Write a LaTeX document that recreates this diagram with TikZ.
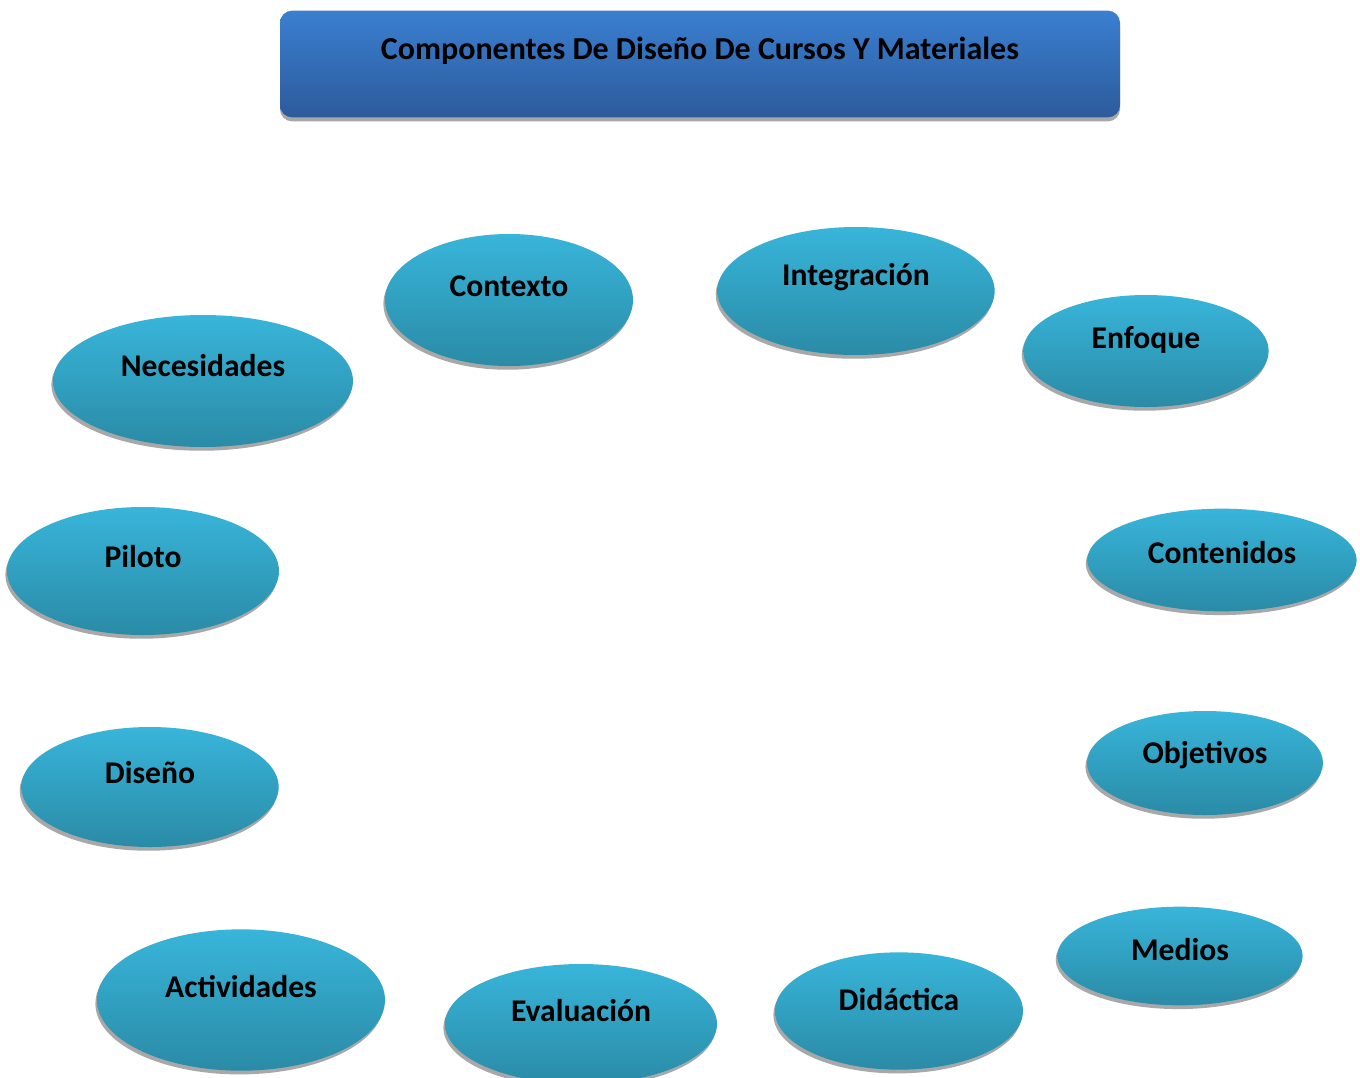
\documentclass[tikz,border=0pt]{standalone}
\usepackage{fontspec}
\setmainfont{Carlito}
\usetikzlibrary{shapes.geometric,shadows}
\definecolor{btop}{HTML}{3A7FD0}
\definecolor{bbot}{HTML}{2D5B9C}
\definecolor{etop}{HTML}{38B5DA}
\definecolor{ebot}{HTML}{2A8BA6}
\definecolor{shd}{HTML}{A8A8A8}
\tikzset{
  bubble/.style={ellipse, inner sep=0pt, shading=axis, top color=etop, bottom color=ebot,
    drop shadow={shadow xshift=-1.2pt, shadow yshift=-2.8pt, fill=shd, opacity=1}},
  lbl/.style={inner sep=0pt, font=\bfseries\fontsize{23.7}{27}\selectfont, text=black},
  titlebox/.style={rectangle, rounded corners=9pt, inner sep=0pt, shading=axis, top color=btop, bottom color=bbot,
    drop shadow={shadow xshift=0pt, shadow yshift=-3pt, fill=shd, opacity=1}},
  ttl/.style={inner sep=0pt, font=\bfseries\fontsize{24}{28}\selectfont, text=black}
}
\begin{document}
\begin{tikzpicture}[x=0.75pt,y=-0.75pt]
\useasboundingbox (0,0) rectangle (1360,1078);
\clip (0,0) rectangle (1360,1078);
\fill[white] (0,0) rectangle (1360,1078);
% title
\node[titlebox, minimum width=630pt, minimum height=80pt] (title) at (700,64) {};
\node[ttl] (title-t) at (700,51) {Componentes De Diseño De Cursos Y Materiales};
% ellipses
\node[bubble, minimum width=186pt, minimum height=99pt] (ctx) at (509,300) {};
\node[lbl] (ctx-t) at (509,286) {Contexto};
\node[bubble, minimum width=208pt, minimum height=96pt] (int) at (856,291) {};
\node[lbl] (int-t) at (856,277) {Integración};
\node[bubble, minimum width=184pt, minimum height=84pt] (enf) at (1146,351) {};
\node[lbl] (enf-t) at (1146,340) {Enfoque};
\node[bubble, minimum width=225pt, minimum height=99pt] (nec) at (203,381) {};
\node[lbl] (nec-t) at (203,366) {Necesidades};
\node[bubble, minimum width=204pt, minimum height=96pt] (pil) at (143,571) {};
\node[lbl] (pil-t) at (143,557) {Piloto};
\node[bubble, minimum width=202pt, minimum height=77pt] (con) at (1222,560) {};
\node[lbl] (con-t) at (1222,553) {Contenidos};
\node[bubble, minimum width=193pt, minimum height=90pt] (dis) at (150,787) {};
\node[lbl] (dis-t) at (150,773) {Diseño};
\node[bubble, minimum width=177pt, minimum height=78pt] (obj) at (1205,763) {};
\node[lbl] (obj-t) at (1205,755) {Objetivos};
\node[bubble, minimum width=184pt, minimum height=74pt] (med) at (1180,956) {};
\node[lbl] (med-t) at (1180,950) {Medios};
\node[bubble, minimum width=216pt, minimum height=106pt] (act) at (241,1000) {};
\node[lbl] (act-t) at (241,986) {Actividades};
\node[bubble, minimum width=204pt, minimum height=90pt] (eva) at (581,1024) {};
\node[lbl] (eva-t) at (581,1011) {Evaluación};
\node[bubble, minimum width=186pt, minimum height=88pt] (did) at (899,1011) {};
\node[lbl] (did-t) at (899,999) {Didáctica};
\end{tikzpicture}
\end{document}
